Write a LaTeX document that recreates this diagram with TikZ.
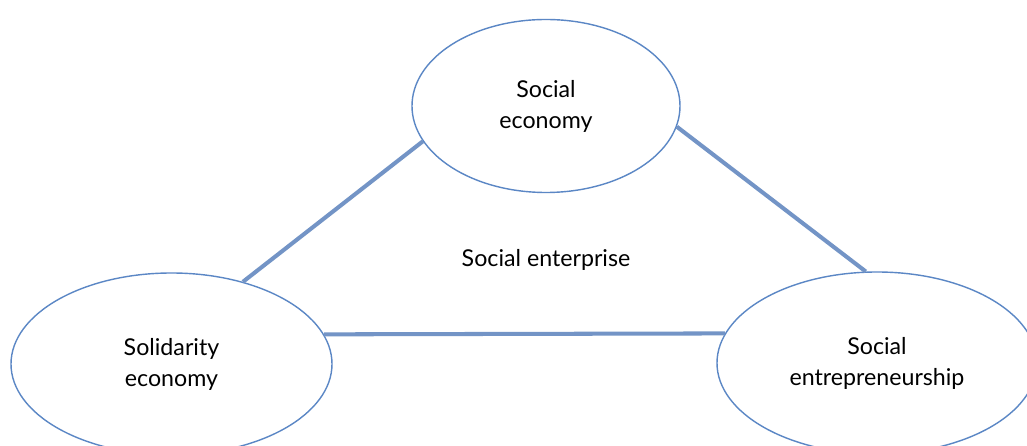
\documentclass[tikz,border=0pt]{standalone}
\usepackage{fontspec}
\setmainfont{Lato}
\usepackage{tikz}
\usetikzlibrary{shapes.geometric}
\definecolor{rimblue}{HTML}{5B87C5}
\definecolor{linkblue}{HTML}{7394C6}
\tikzset{
  field/.style={draw=rimblue, line width=0.8pt, ellipse, fill=white, align=center,
                font=\fontsize{13.2}{17.6}\selectfont, inner sep=0pt},
  link/.style={draw=linkblue, line width=2.3pt}
}

\begin{document}
\begin{tikzpicture}
                \clip (0, 0) rectangle (20.54, 8.92);
                \fill[white] (0, 0) rectangle (20.54, 8.92);

                % Fields
                \node[field, minimum width=5.36cm, minimum height=3.46cm] (soceco) at (10.92, 6.80) {Social\\economy};
                \node[field, minimum width=6.42cm, minimum height=3.64cm] (solid) at (3.43, 1.64) {Solidarity\\economy};
                \node[field, minimum width=6.40cm, minimum height=3.64cm] (entre) at (17.54, 1.66) {Social\\entrepreneurship};

                % Centre
                \node[font=\fontsize{13.2}{17.6}\selectfont] (socent) at (10.92, 3.72) {Social enterprise};

                % Links
                \draw[link] (solid.49.7) -- (soceco.196.5);
                \draw[link] (soceco.-9.3) -- (entre.97.5);
                \draw[link] (solid.11) -- (entre.169);
            \end{tikzpicture}
\end{document}
